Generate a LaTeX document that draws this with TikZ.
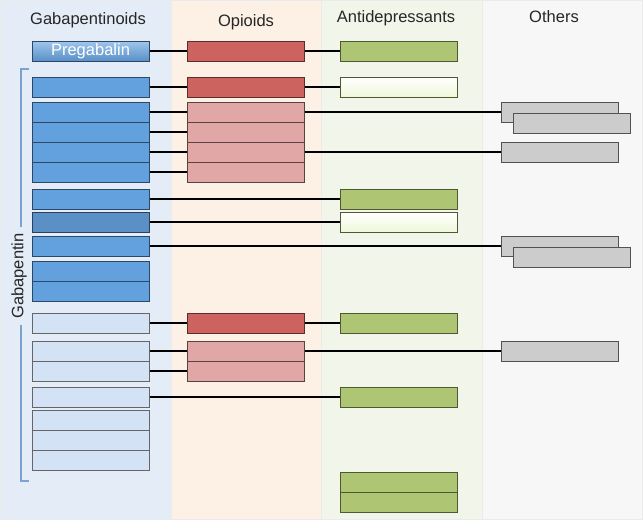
\documentclass[tikz,border=0pt]{standalone}
\usepackage{fontspec}
\setmainfont{Liberation Sans}
\definecolor{gabbg}{HTML}{E4ECF7}
\definecolor{opibg}{HTML}{FDF0E4}
\definecolor{adpbg}{HTML}{F2F5E9}
\definecolor{othbg}{HTML}{F7F7F7}
\definecolor{gabbox}{HTML}{62A0DE}
\definecolor{gabdark}{HTML}{5B90C6}
\definecolor{gablight}{HTML}{D3E3F5}
\definecolor{opibox}{HTML}{CD635E}
\definecolor{opilight}{HTML}{E1A6A6}
\definecolor{adpbox}{HTML}{AEC673}
\definecolor{adplight}{HTML}{EFF8DA}
\definecolor{othbox}{HTML}{CCCCCC}
\definecolor{brkcol}{HTML}{7BA3CF}
\begin{document}
\begin{tikzpicture}[x=1pt,y=-1pt,
    cell/.style={line width=1pt,minimum width=117pt,minimum height=20pt,inner sep=0pt},
    gab/.style={cell,fill=gabbox,draw=gabbox!45!black},
    gabdk/.style={cell,fill=gabdark,draw=gabdark!45!black},
    gabl/.style={cell,fill=gablight,draw=black!60},
    opi/.style={cell,fill=opibox,draw=opibox!45!black},
    opil/.style={cell,fill=opilight,draw=opilight!40!black},
    adp/.style={cell,fill=adpbox,draw=adpbox!45!black},
    adpl/.style={cell,top color=white,bottom color=adplight,draw=adpbox!45!black},
    oth/.style={cell,fill=othbox,draw=othbox!40!black},
    link/.style={line width=1.3pt},
    head/.style={anchor=base,font=\fontsize{16.5}{20}\selectfont,text=black!85}]
  \useasboundingbox (0,0) rectangle (643,522);
  \fill[white] (0,0) rectangle (643,522);
  % four class columns
  \draw[black!8,fill=gabbg] (0.5,0.5) rectangle (171,519);
  \draw[black!8,fill=opibg] (171,0.5) rectangle (321,519);
  \draw[black!8,fill=adpbg] (321,0.5) rectangle (482,519);
  \draw[black!8,fill=othbg] (482,0.5) rectangle (642,519);
  \node[head] (hgab) at (88,24) {Gabapentinoids};
  \node[head] (hopi) at (246,26) {Opioids};
  \node[head] (hadp) at (396,23) {Antidepressants};
  \node[head] (hoth) at (554,23) {Others};
  % gabapentinoids
  \node[cell,top color=gabbox!60!white,bottom color=gabbox!90!black,draw=gabbox!45!black,
        text=white,font=\fontsize{16.5}{20}\selectfont] (preg) at (90.5,51) {Pregabalin};
  \node[gab] (g1) at (90.5,87) {};
  \node[gab] (g2) at (90.5,112) {};
  \node[gab] (g3) at (90.5,132) {};
  \node[gab] (g4) at (90.5,152) {};
  \node[gab] (g5) at (90.5,172) {};
  \node[gab] (g6) at (90.5,199) {};
  \node[gabdk] (g7) at (90.5,222) {};
  \node[gab] (g8) at (90.5,246) {};
  \node[gab] (g9) at (90.5,271) {};
  \node[gab] (g10) at (90.5,291) {};
  \node[gabl] (g11) at (90.5,323) {};
  \node[gabl] (g12) at (90.5,351) {};
  \node[gabl] (g13) at (90.5,371) {};
  \node[gabl] (g14) at (90.5,397) {};
  \node[gabl] (g15) at (90.5,420) {};
  \node[gabl] (g16) at (90.5,440) {};
  \node[gabl] (g17) at (90.5,460) {};
  % opioids
  \node[opi] (o0) at (245.5,51) {};
  \node[opi] (o1) at (245.5,87) {};
  \node[opil] (o2) at (245.5,112) {};
  \node[opil] (o3) at (245.5,132) {};
  \node[opil] (o4) at (245.5,152) {};
  \node[opil] (o5) at (245.5,172) {};
  \node[opi] (o6) at (245.5,323) {};
  \node[opil] (o7) at (245.5,351) {};
  \node[opil] (o8) at (245.5,371) {};
  % antidepressants
  \node[adp] (a0) at (398.5,51) {};
  \node[adpl] (a1) at (398.5,87) {};
  \node[adp] (a2) at (398.5,199) {};
  \node[adpl] (a3) at (398.5,222) {};
  \node[adp] (a4) at (398.5,323) {};
  \node[adp] (a5) at (398.5,397) {};
  \node[adp] (a6) at (398.5,482) {};
  \node[adp] (a7) at (398.5,502) {};
  % others
  \node[oth] (x1) at (559.5,112) {};
  \node[oth] (x1b) at (571.5,123) {};
  \node[oth] (x2) at (559.5,152) {};
  \node[oth] (x3) at (559.5,246) {};
  \node[oth] (x3b) at (571.5,257) {};
  \node[oth] (x4) at (559.5,351) {};
  % links
  \draw[link] (preg.east) -- (o0.west) (o0.east) -- (a0.west);
  \draw[link] (g1.east) -- (o1.west) (o1.east) -- (a1.west);
  \draw[link] (g2.east) -- (o2.west) (g3.east) -- (o3.west)
              (g4.east) -- (o4.west) (g5.east) -- (o5.west);
  \draw[link] (o2.east) -- (x1.west) (o4.east) -- (x2.west);
  \draw[link] (g6.east) -- (a2.west) (g7.east) -- (a3.west) (g8.east) -- (x3.west);
  \draw[link] (g11.east) -- (o6.west) (o6.east) -- (a4.west);
  \draw[link] (g12.east) -- (o7.west) (g13.east) -- (o8.west) (o7.east) -- (x4.west);
  \draw[link] (g14.east) -- (a5.west);
  % gabapentin bracket
  \node[rotate=90,font=\fontsize{16.5}{20}\selectfont,text=black!85] (gtxt) at (19,276) {Gabapentin};
  \draw[brkcol,line width=1.4pt] (29,69) -- (21,69) -- (21,227);
  \draw[brkcol,line width=1.4pt] (21,325) -- (21,481) -- (29,481);
\end{tikzpicture}
\end{document}
